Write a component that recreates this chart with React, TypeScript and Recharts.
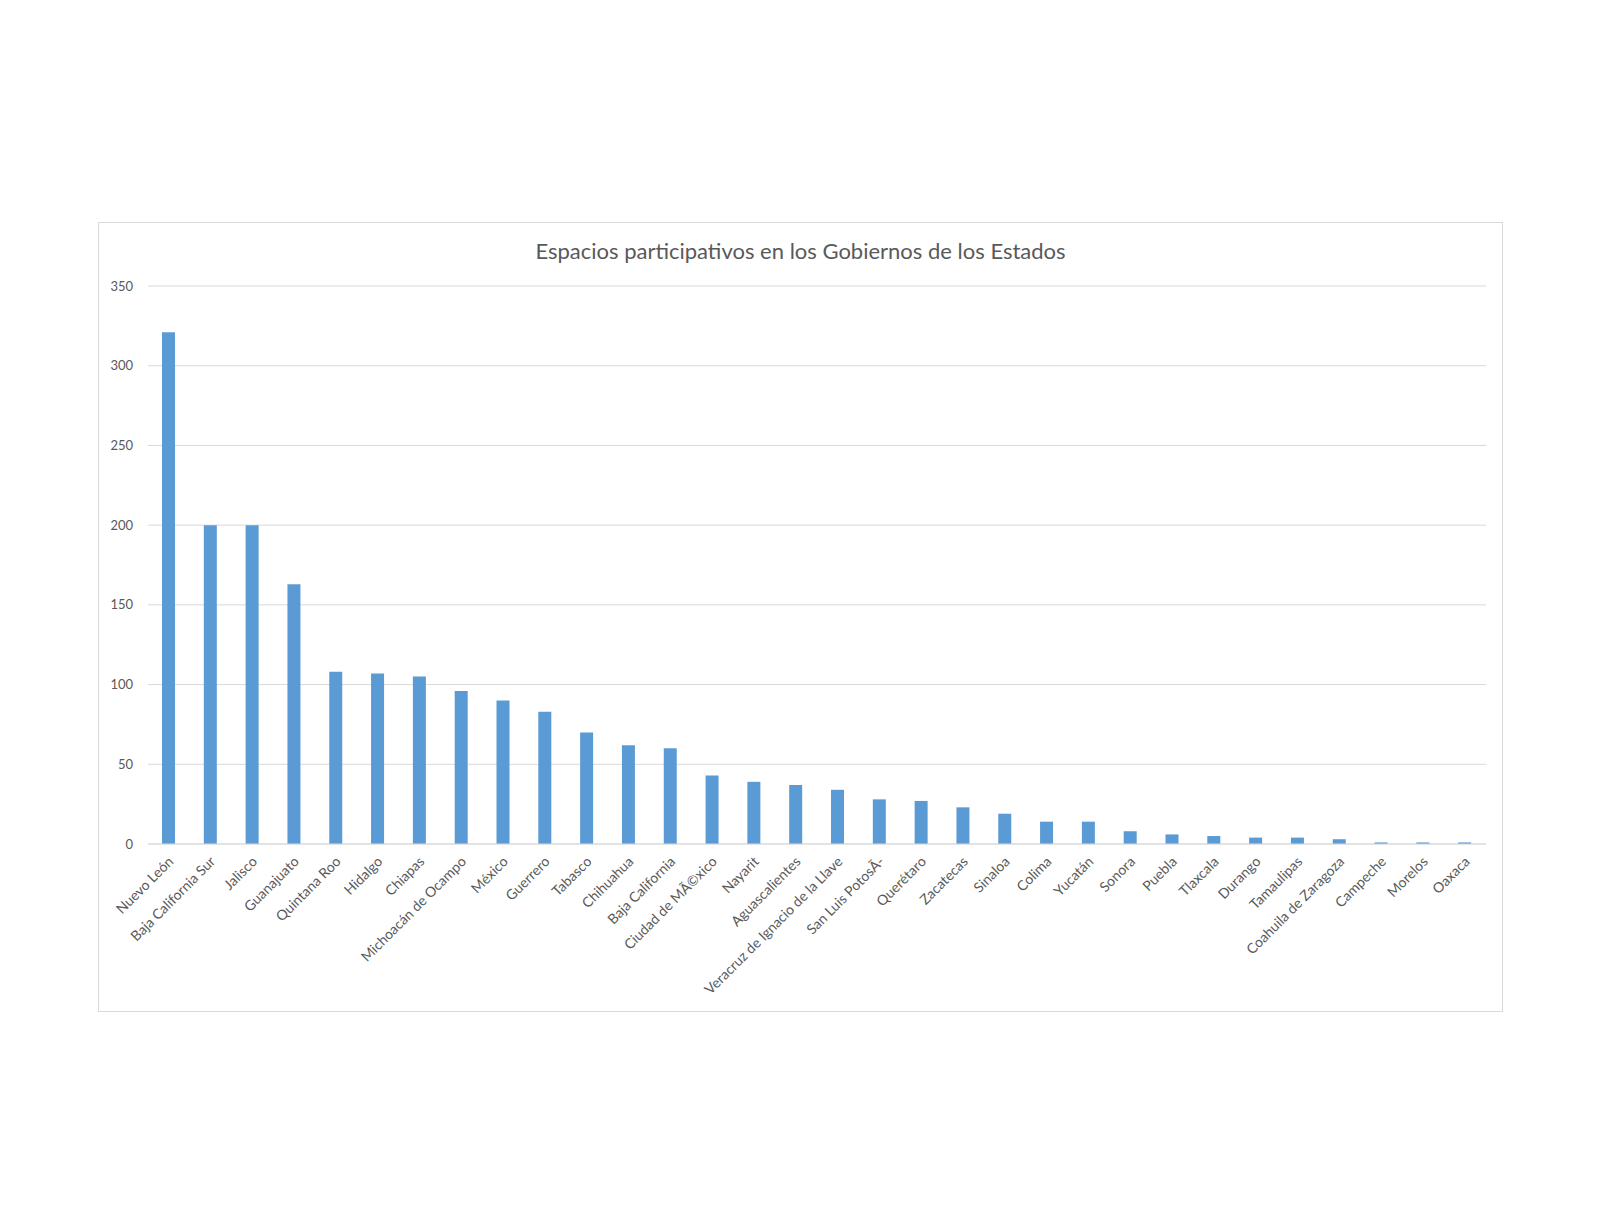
import React from 'react';
import { BarChart, Bar, XAxis, YAxis, CartesianGrid } from 'recharts';

const estados: string[] = [
  'Nuevo León', 'Baja California Sur', 'Jalisco', 'Guanajuato', 'Quintana Roo', 'Hidalgo',
  'Chiapas', 'Michoacán de Ocampo', 'México', 'Guerrero', 'Tabasco', 'Chihuahua',
  'Baja California', 'Ciudad de MÃ©xico', 'Nayarit', 'Aguascalientes',
  'Veracruz de Ignacio de la Llave', 'San Luis PotosÃ-', 'Querétaro', 'Zacatecas', 'Sinaloa',
  'Colima', 'Yucatán', 'Sonora', 'Puebla', 'Tlaxcala', 'Durango', 'Tamaulipas',
  'Coahuila de Zaragoza', 'Campeche', 'Morelos', 'Oaxaca',
];

const espacios: number[] = [
  321, 200, 200, 163, 108, 107, 105, 96, 90, 83, 70, 62, 60, 43, 39, 37,
  34, 28, 27, 23, 19, 14, 14, 8, 6, 5, 4, 4, 3, 1, 1, 1,
];

const yTicks: number[] = [0, 50, 100, 150, 200, 250, 300, 350];

const data = estados.map((name, i) => ({ name, value: espacios[i] }));

const FONT = 'Lato, "Open Sans", sans-serif';
const TEXT = '#595959';
const GRID = '#d9d9d9';

const XTick = (props: any) => {
  const { x, y, payload } = props;
  return (
    <g transform={`translate(${x + 2},${y + 5})`}>
      <text
        x={0}
        y={0}
        dy="0.35em"
        textAnchor="end"
        transform="rotate(-45)"
        fill={TEXT}
        fontSize={14}
        fontFamily={FONT}
      >
        {payload.value}
      </text>
    </g>
  );
};

const App: React.FC = () => {
  return (
    <div style={{ position: 'relative', width: 1584, height: 1198 }}>
      <div
        style={{
          position: 'absolute',
          left: 90,
          top: 214,
          width: 1403,
          height: 788,
          border: `1px solid ${GRID}`,
          background: '#fff',
        }}
      >
        <div
          style={{
            position: 'absolute',
            left: 0,
            right: 0,
            top: 14,
            textAlign: 'center',
            fontFamily: FONT,
            fontSize: 22,
            color: TEXT,
          }}
        >
          Espacios participativos en los Gobiernos de los Estados
        </div>
        <BarChart
          width={1403}
          height={788}
          data={data}
          margin={{ top: 63, right: 16, left: 9, bottom: 7 }}
          barSize={13}
        >
          <CartesianGrid vertical={false} stroke={GRID} />
          <XAxis
            dataKey="name"
            interval={0}
            height={160}
            tickLine={false}
            axisLine={{ stroke: GRID }}
            tickSize={6}
            tickMargin={4}
            tick={<XTick />}
          />
          <YAxis
            domain={[0, 350]}
            ticks={yTicks}
            width={40}
            tickLine={false}
            axisLine={false}
            tickSize={6}
            tickMargin={9}
            tick={{ fill: TEXT, fontSize: 13, fontFamily: FONT }}
          />
          <Bar dataKey="value" fill="#5b9bd5" isAnimationActive={false} />
        </BarChart>
      </div>
    </div>
  );
};

export default App;
